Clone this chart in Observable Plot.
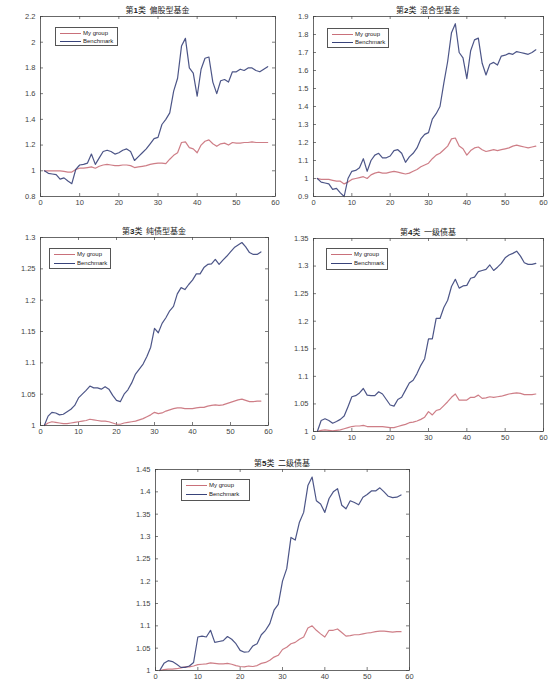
<!DOCTYPE html>
<html><head><meta charset="utf-8">
<script src="https://cdn.jsdelivr.net/npm/d3@7"></script>
<script src="https://cdn.jsdelivr.net/npm/@observablehq/plot@0.6"></script>
<style>
body{margin:0;background:#fff;width:560px;height:700px;position:relative;overflow:hidden;font-family:"Liberation Sans",Arial,sans-serif;}
.panel{position:absolute;}
.title{position:absolute;font-family:"Noto Sans CJK SC",sans-serif;font-size:8px;line-height:9px;color:#222;white-space:nowrap;transform:translateX(-50%);}
.title b{font-family:"Liberation Sans",Arial,sans-serif;font-weight:bold;}
.legend{position:absolute;border:1px solid #555;background:#fff;box-sizing:border-box;}
.row{position:absolute;left:0;height:8px;width:100%;}
.sw{position:absolute;left:4px;top:4px;width:21px;height:0;border-top:1px solid;}
.lt{position:absolute;left:27px;top:0;font-size:6px;line-height:8px;color:#222;white-space:nowrap;}
</style></head><body>
<script>
const seriesNames = ["My group", "Benchmark"];
const seriesColors = ["#c9707a", "#38437a"];
const xTicks = [0, 10, 20, 30, 40, 50, 60];

const titles = ["偏股型基金", "混合型基金", "纯债型基金", "一级债基", "二级债基"];

const p1Mine = [1.0,1.0,1.0,1.0,1.0,0.995,0.99,0.99,1.01,1.02, 1.02,1.025,1.03,1.02,1.035,1.045,1.05,1.045,1.04,1.04, 1.045,1.045,1.04,1.025,1.03,1.035,1.04,1.05,1.055,1.06, 1.06,1.055,1.09,1.12,1.14,1.22,1.225,1.18,1.17,1.14, 1.20,1.23,1.24,1.21,1.19,1.21,1.215,1.20,1.22,1.215, 1.215,1.22,1.22,1.225,1.22,1.22,1.22,1.22];
const p1Bench = [1.0,0.98,0.975,0.97,0.935,0.945,0.92,0.90,1.01,1.045, 1.05,1.06,1.13,1.05,1.10,1.15,1.16,1.15,1.13,1.14, 1.16,1.17,1.15,1.08,1.11,1.14,1.17,1.21,1.25,1.26, 1.36,1.40,1.45,1.62,1.72,1.97,2.03,1.80,1.76,1.58, 1.79,1.875,1.885,1.69,1.60,1.70,1.71,1.69,1.77,1.77, 1.79,1.78,1.80,1.80,1.78,1.77,1.79,1.81];

const p2Mine = [1.0,0.995,0.995,0.995,0.99,0.985,0.985,0.97,0.98,0.995, 1.0,1.005,1.01,1.0,1.02,1.03,1.035,1.03,1.03,1.035, 1.04,1.035,1.03,1.025,1.03,1.04,1.05,1.065,1.075,1.085, 1.11,1.13,1.14,1.16,1.18,1.22,1.225,1.18,1.165,1.13, 1.155,1.17,1.175,1.16,1.15,1.155,1.16,1.155,1.16,1.165, 1.17,1.18,1.185,1.18,1.175,1.17,1.175,1.18];
const p2Bench = [1.0,0.98,0.975,0.97,0.94,0.945,0.92,0.90,1.0,1.04, 1.045,1.06,1.11,1.04,1.10,1.13,1.14,1.115,1.115,1.125, 1.155,1.16,1.14,1.09,1.12,1.14,1.17,1.22,1.245,1.255, 1.33,1.36,1.40,1.53,1.65,1.81,1.86,1.70,1.67,1.555, 1.71,1.77,1.78,1.64,1.575,1.635,1.645,1.63,1.68,1.685, 1.695,1.69,1.705,1.70,1.695,1.69,1.70,1.715];

const p3Mine = [1.0,1.004,1.006,1.005,1.004,1.003,1.003,1.004,1.005,1.006, 1.007,1.008,1.01,1.009,1.008,1.007,1.007,1.006,1.004,1.002, 1.002,1.004,1.005,1.006,1.007,1.009,1.011,1.014,1.017,1.021, 1.019,1.02,1.023,1.025,1.027,1.028,1.028,1.027,1.027,1.027, 1.028,1.029,1.029,1.031,1.032,1.033,1.032,1.033,1.035,1.037, 1.039,1.041,1.042,1.04,1.038,1.038,1.039,1.039];
const p3Bench = [1.0,1.015,1.021,1.02,1.017,1.018,1.022,1.026,1.032,1.044, 1.05,1.056,1.063,1.06,1.06,1.058,1.062,1.058,1.048,1.04, 1.038,1.05,1.057,1.068,1.082,1.09,1.098,1.11,1.125,1.155, 1.148,1.163,1.172,1.183,1.19,1.21,1.22,1.217,1.225,1.232, 1.242,1.242,1.252,1.257,1.258,1.265,1.257,1.264,1.27,1.277, 1.284,1.288,1.292,1.285,1.276,1.273,1.273,1.277];

const p4Mine = [1.0,1.002,1.003,1.002,1.001,1.002,1.003,1.005,1.007,1.009, 1.01,1.01,1.011,1.009,1.009,1.009,1.009,1.009,1.008,1.007, 1.007,1.009,1.011,1.013,1.016,1.017,1.019,1.022,1.026,1.036, 1.03,1.038,1.04,1.047,1.054,1.062,1.068,1.057,1.057,1.057, 1.062,1.062,1.066,1.06,1.061,1.063,1.062,1.063,1.064,1.066, 1.068,1.069,1.07,1.069,1.067,1.067,1.067,1.068];
const p4Bench = [1.0,1.02,1.023,1.02,1.015,1.018,1.022,1.028,1.045,1.063, 1.065,1.07,1.078,1.066,1.065,1.065,1.072,1.068,1.058,1.048, 1.046,1.058,1.062,1.075,1.088,1.093,1.105,1.12,1.132,1.168, 1.168,1.205,1.205,1.225,1.238,1.263,1.276,1.26,1.264,1.265, 1.278,1.28,1.29,1.292,1.294,1.302,1.292,1.298,1.305,1.315, 1.32,1.323,1.327,1.318,1.306,1.303,1.303,1.305];

const p5Mine = [1.0,1.002,1.003,1.003,1.004,1.006,1.008,1.008,1.01,1.013, 1.014,1.015,1.017,1.016,1.015,1.015,1.016,1.014,1.011,1.009, 1.008,1.01,1.009,1.011,1.016,1.018,1.023,1.03,1.034,1.047, 1.052,1.06,1.063,1.07,1.075,1.095,1.1,1.09,1.082,1.075, 1.09,1.09,1.093,1.085,1.077,1.078,1.08,1.08,1.082,1.084, 1.085,1.087,1.088,1.088,1.087,1.086,1.087,1.087];
const p5Bench = [1.0,1.016,1.022,1.02,1.014,1.007,1.007,1.01,1.018,1.075, 1.077,1.075,1.09,1.063,1.065,1.067,1.076,1.07,1.06,1.045, 1.041,1.042,1.055,1.06,1.08,1.09,1.105,1.135,1.148,1.2, 1.228,1.298,1.292,1.332,1.354,1.414,1.433,1.38,1.373,1.354, 1.385,1.4,1.407,1.37,1.362,1.38,1.376,1.371,1.388,1.394, 1.402,1.402,1.409,1.4,1.39,1.387,1.388,1.393];

const yTicks1 = [0.8, 1.0, 1.2, 1.4, 1.6, 1.8, 2.0, 2.2];
const yTicks2 = [0.9, 1.0, 1.1, 1.2, 1.3, 1.4, 1.5, 1.6, 1.7, 1.8, 1.9];
const yTicks3 = [1, 1.05, 1.1, 1.15, 1.2, 1.25, 1.3];
const yTicks4 = [1, 1.05, 1.1, 1.15, 1.2, 1.25, 1.3, 1.35];
const yTicks5 = [1, 1.05, 1.1, 1.15, 1.2, 1.25, 1.3, 1.35, 1.4, 1.45];

// layout: frame box on page and legend box on page
const panels = [
  {n: 1, mine: p1Mine, bench: p1Bench, yTicks: yTicks1, fx: 40, fy: 16, fw: 235, fh: 180, mr: 10, lg: [55, 27, 63, 19]},
  {n: 2, mine: p2Mine, bench: p2Bench, yTicks: yTicks2, fx: 313, fy: 16, fw: 230, fh: 180, mr: 10, lg: [327, 28, 62, 20]},
  {n: 3, mine: p3Mine, bench: p3Bench, yTicks: yTicks3, fx: 40, fy: 237, fw: 228, fh: 188, mr: 10, lg: [49, 248, 62, 21]},
  {n: 4, mine: p4Mine, bench: p4Bench, yTicks: yTicks4, fx: 313, fy: 238, fw: 230, fh: 193, mr: 10, lg: [326, 248, 62, 22]},
  {n: 5, mine: p5Mine, bench: p5Bench, yTicks: yTicks5, fx: 155, fy: 469, fw: 254, fh: 201, mr: 10, lg: [181, 479, 69, 22]}
];

const fmt = d => String(+d.toFixed(2));
const ml = 32, mt = 4, mb = 16;

panels.forEach((p, k) => {
  const rows = [];
  [p.mine, p.bench].forEach((vals, s) => vals.forEach((v, i) => rows.push({t: i + 1, v, s: seriesNames[s]})));
  const chart = Plot.plot({
    width: p.fw + ml + p.mr,
    height: p.fh + mt + mb,
    marginLeft: ml, marginRight: p.mr, marginTop: mt, marginBottom: mb,
    style: {fontSize: "7.5px", fontFamily: "Liberation Sans, Arial, sans-serif", color: "#333", background: "transparent"},
    x: {domain: [0, 60]},
    y: {domain: [p.yTicks[0], p.yTicks[p.yTicks.length - 1]]},
    color: {domain: seriesNames, range: seriesColors},
    marks: [
      Plot.tickX(xTicks, {x: d => d, insetTop: p.fh - 3, stroke: "#444", strokeWidth: 0.7}),
      Plot.tickX(xTicks, {x: d => d, insetBottom: p.fh - 3, stroke: "#444", strokeWidth: 0.7}),
      Plot.tickY(p.yTicks, {y: d => d, insetRight: p.fw - 3, stroke: "#444", strokeWidth: 0.7}),
      Plot.tickY(p.yTicks, {y: d => d, insetLeft: p.fw - 3, stroke: "#444", strokeWidth: 0.7}),
      Plot.line(rows, {x: "t", y: "v", z: "s", stroke: "s", strokeWidth: 1.2, strokeOpacity: 0.9}),
      Plot.frame({stroke: "#444", strokeWidth: 0.8}),
      Plot.axisX({ticks: xTicks, tickSize: 0, tickPadding: 3, tickFormat: d => String(d), label: null, fill: "#444"}),
      Plot.axisY({ticks: p.yTicks, tickSize: 0, tickPadding: 5, tickFormat: fmt, label: null, fill: "#444"})
    ]
  });
  const div = document.createElement("div");
  div.className = "panel";
  div.style.left = (p.fx - ml) + "px";
  div.style.top = (p.fy - mt) + "px";
  div.appendChild(chart);
  document.body.appendChild(div);

  const t = document.createElement("div");
  t.className = "title";
  t.style.left = (p.fx + p.fw / 2) + "px";
  t.style.top = (p.fy - 11) + "px";
  t.innerHTML = "第<b>" + p.n + "</b>类&nbsp;&nbsp;" + titles[k];
  document.body.appendChild(t);

  const lg = document.createElement("div");
  lg.className = "legend";
  lg.style.left = p.lg[0] + "px";
  lg.style.top = p.lg[1] + "px";
  lg.style.width = p.lg[2] + "px";
  lg.style.height = p.lg[3] + "px";
  seriesNames.forEach((name, s) => {
    const r = document.createElement("div");
    r.className = "row";
    r.style.top = (1 + s * (p.lg[3] - 4) / 2) + "px";
    r.innerHTML = '<div class="sw" style="border-color:' + seriesColors[s] + '"></div><div class="lt">' + name + '</div>';
    lg.appendChild(r);
  });
  document.body.appendChild(lg);
});
</script>
</body></html>
